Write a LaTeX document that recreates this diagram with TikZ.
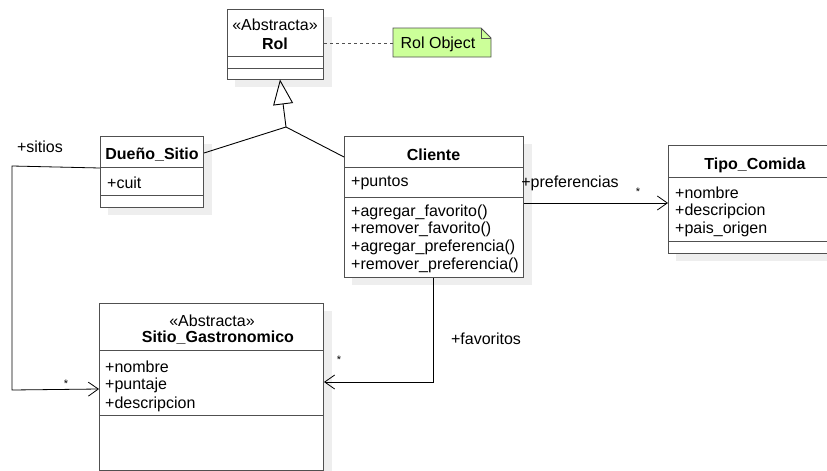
\documentclass[tikz,border=0pt]{standalone}
\usepackage{fontspec}
\setmainfont{Liberation Sans}
\usetikzlibrary{arrows.meta}

\definecolor{boxline}{HTML}{505050}
\definecolor{shadowgray}{HTML}{EEEEEE}
\definecolor{notegreen}{HTML}{CCFF99}

\tikzset{
  classbox/.style={draw=boxline, line width=1pt, fill=white, inner sep=0pt, anchor=north west},
  compsep/.style={draw=boxline, line width=1pt},
  boxshadow/.style={fill=shadowgray, draw=none},
  txt/.style={inner sep=0pt, font=\fontsize{16}{18}\selectfont},
  title/.style={txt, font=\fontsize{16}{18}\selectfont\bfseries},
  member/.style={txt, anchor=west},
  assoc/.style={draw=black, line width=0.8pt, -{Straight Barb[length=10pt, width=14pt, line width=0.8pt]}},
  genline/.style={draw=black, line width=0.9pt},
  mult/.style={txt, font=\fontsize{11}{12}\selectfont},
}

\begin{document}
\begin{tikzpicture}[x=1pt, y=-1pt]
\useasboundingbox (0,0) rectangle (827,471);
\fill[white] (0,0) rectangle (827,471);

% drop shadows
\fill[boxshadow] (235,17) rectangle (332,87);
\fill[boxshadow] (108,144) rectangle (212,215);
\fill[boxshadow] (352,144) rectangle (532,285);
\fill[boxshadow] (676,155) rectangle (850,261);
\fill[boxshadow] (107,311) rectangle (332,478);

% class Rol
\node[classbox, minimum width=96pt, minimum height=70pt] (rol) at (227,9) {};
\draw[compsep] (227,56) -- (323,56) (227,68) -- (323,68);
\node[txt] (rolst) at (275,25) {«Abstracta»};
\node[title] (rolname) at (275,44) {Rol};

% note attached to Rol
\draw[boxline, line width=0.9pt, fill=notegreen] (393,28) -- (481,28) -- (491,38) -- (491,57) -- (393,57) -- cycle;
\draw[boxline, line width=0.9pt] (481,28) -- (481,38) -- (491,38);
\coordinate (note) at (393,43);
\node[txt] (notetext) at (438,44) {Rol Object};
\draw[boxline, line width=0.9pt, dash pattern=on 3pt off 3pt] (rol.east |- note) -- (note);

% class Dueño_Sitio
\node[classbox, minimum width=103pt, minimum height=71pt] (dueno) at (100,136) {};
\draw[compsep] (100,167) -- (203,167) (100,195) -- (203,195);
\node[title] (duenoname) at (152,155) {Dueño\_Sitio};
\node[member] (cuit) at (107,183) {+cuit};

% class Cliente
\node[classbox, minimum width=179pt, minimum height=141pt] (cliente) at (344,136) {};
\draw[compsep] (344,167) -- (523,167) (344,197) -- (523,197);
\node[title] (clientename) at (433.5,155) {Cliente};
\node[member] (puntos) at (351,183) {+puntos};
\node[member] (op1) at (351,212) {+agregar\_favorito()};
\node[member] (op2) at (351,229.5) {+remover\_favorito()};
\node[member] (op3) at (351,247.5) {+agregar\_preferencia()};
\node[member] (op4) at (351,265.5) {+remover\_preferencia()};

% class Tipo_Comida
\node[classbox, minimum width=174pt, minimum height=108pt] (tipo) at (668,145) {};
\draw[compsep] (668,177) -- (842,177) (668,241) -- (842,241);
\node[title] (tiponame) at (755,165) {Tipo\_Comida};
\node[member] (tn) at (675,193) {+nombre};
\node[member] (td) at (675,211) {+descripcion};
\node[member] (tp) at (675,229) {+pais\_origen};

% class Sitio_Gastronomico
\node[classbox, minimum width=224pt, minimum height=167pt] (sitio) at (99,303) {};
\draw[compsep] (99,350) -- (323,350) (99,415) -- (323,415);
\node[txt] (sitiost) at (212,321) {«Abstracta»};
\node[title] (sitioname) at (218,338) {Sitio\_Gastronomico};
\node[member] (sn) at (105,367) {+nombre};
\node[member] (sp) at (105,385.5) {+puntaje};
\node[member] (sd) at (105,404) {+descripcion};

% generalization: Dueño_Sitio and Cliente specialise Rol
\coordinate (junc) at (286,127);
\draw[genline] (dueno.east |- 0,153) -- (junc) -- (cliente.west |- 0,157);
\draw[genline, -{Triangle[open, length=25pt, width=20pt, line width=0.9pt]}] (junc) -- (280,79.5);

% association Dueño_Sitio -> Sitio_Gastronomico
\coordinate (sitiosbend1) at (12,166);
\coordinate (sitiosbend2) at (12,390);
\draw[assoc] (dueno.west |- 0,168) -- (sitiosbend1) -- (sitiosbend2) -- (sitio.west |- 0,389);
\node[txt] (sitioslabel) at (40,147) {+sitios};
\node[mult] (sitiosmult) at (66,384) {*};

% association Cliente -> Sitio_Gastronomico
\coordinate (favbend) at (433,382);
\draw[assoc] (cliente.south -| 433,0) -- (favbend) -- (sitio.east |- favbend);
\node[txt] (favlabel) at (486,339) {+favoritos};
\node[mult] (favmult) at (339,360) {*};

% association Cliente -> Tipo_Comida
\draw[assoc] (cliente.east |- 0,203) -- (tipo.west |- 0,203);
\node[txt] (preflabel) at (570,183) {+preferencias};
\node[mult] (prefmult) at (638,192) {*};
\end{tikzpicture}
\end{document}
